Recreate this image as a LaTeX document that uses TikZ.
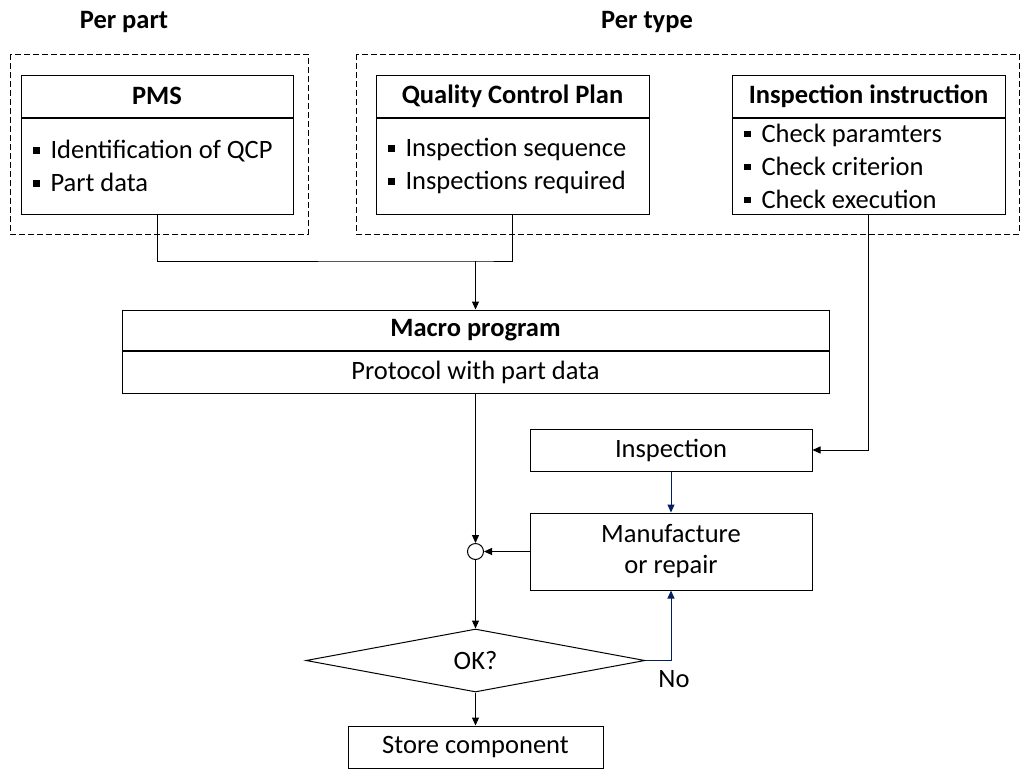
\documentclass[tikz,border=0pt]{standalone}
\usepackage{fontspec}
\setmainfont{Carlito}
\usepackage{tikz}
\usetikzlibrary{shapes.geometric,arrows.meta,positioning}

\definecolor{navy}{RGB}{0,32,96}
\newcommand{\bul}{\rule[5pt]{6.5pt}{6.5pt}\hspace{11pt}}

\begin{document}
\begin{tikzpicture}[x=1pt,y=-1pt,line width=1pt,
    txt/.style={font=\fontsize{26.5}{33}\selectfont},
    hdr/.style={draw,txt,font=\fontsize{26.5}{33}\selectfont\bfseries,minimum width=#1,minimum height=42pt,inner sep=0pt},
    lst/.style={draw,txt,text width=#1-24pt,inner xsep=12pt,inner ysep=0pt,align=flush left,minimum height=96pt},
    box/.style={draw,txt,minimum width=#1,minimum height=42pt,inner sep=0pt,align=center},
    group/.style={draw,dashed,dash pattern=on 6pt off 3pt,line width=0.8pt},
    arr/.style={-{Triangle[length=8pt,width=7pt]}}]
        \useasboundingbox (0,0) rectangle (1020,769);
        % groups
        \node[font=\fontsize{26.5}{33}\selectfont\bfseries] (perpart) at (124,22) {Per part};
        \node[font=\fontsize{26.5}{33}\selectfont\bfseries] (pertype) at (647,22) {Per type};
        \draw[group] (10,54) rectangle (308,234);
        \draw[group] (356,54) rectangle (1019,234);
        % documents
        \node[hdr=272pt] (pms) at (157,96) {PMS};
        \node[lst=272pt,below=0pt of pms] (pmsb) {\bul Identification of QCP\\\bul Part data};
        \node[hdr=273pt] (qcp) at (512.5,96) {Quality Control Plan};
        \node[lst=273pt,below=0pt of qcp] (qcpb) {\bul Inspection sequence\\\bul Inspections required};
        \node[hdr=273pt] (ins) at (868.5,96) {Inspection instruction};
        \node[lst=273pt,below=0pt of ins] (insb) {\bul Check paramters\\\bul Check criterion\\\bul Check execution};
        % macro program
        \node[hdr=707pt,minimum height=40pt] (macro) at (475.5,330) {Macro program};
        \node[box=707pt,below=0pt of macro] (macrob) {Protocol with part data};
        % process
        \node[box=282pt] (insp) at (671,450) {Inspection};
        \node[box=282pt,minimum height=77pt,font=\fontsize{26.5}{31}\selectfont] (manu) at (671,551.5) {Manufacture\\or repair};
        \node[draw,circle,minimum size=16pt,inner sep=0pt] (circ) at (475.5,551.5) {};
        \node[draw,diamond,txt,minimum width=339pt,minimum height=63pt,inner sep=0pt] (ok) at (475.5,660.5) {OK?};
        \node[box=255pt] (store) at (475.5,747) {Store component};
        \node[txt] (no) at (674,679) {No};
        % connectors
        \coordinate (join) at (475.5,261);
        \draw (pmsb.south) |- (join) -| (qcpb.south);
        \draw[arr] (join) -- (macro.north);
        \draw[arr] (insb.south) |- (insp.east);
        \draw[arr,navy] (insp.south) -- (manu.north);
        \draw[arr] (macrob.south) -- (circ.north);
        \draw[arr] (manu.west) -- (circ.east);
        \draw[arr] (circ.south) -- (ok.north);
        \draw[arr] (ok.south) -- (store.north);
        \draw[arr,navy] (ok.east) -| (manu.south);
\end{tikzpicture}
\end{document}
